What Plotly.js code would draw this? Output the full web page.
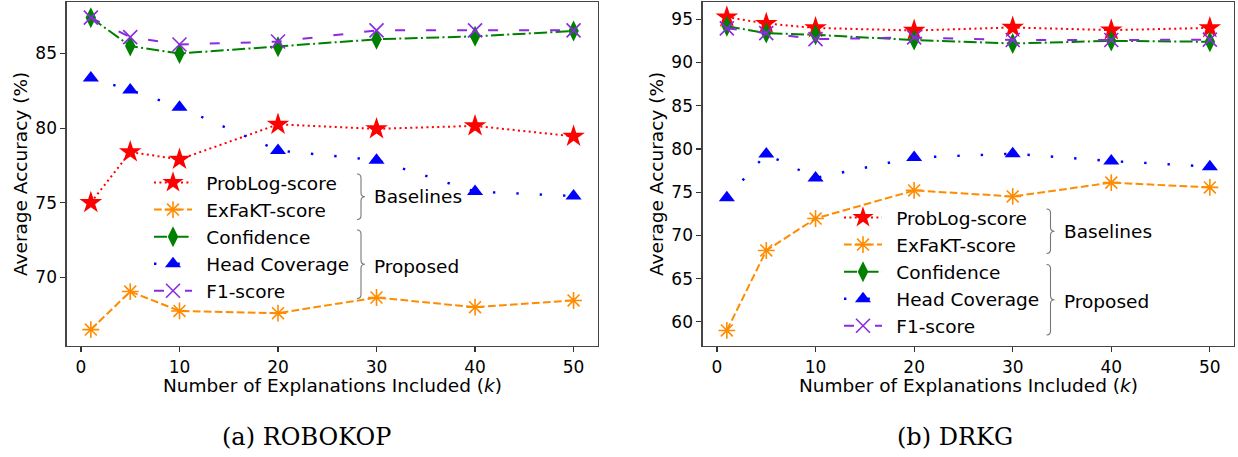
<!DOCTYPE html>
<html>
<head>
<meta charset="utf-8">
<script src="https://cdn.plot.ly/plotly-3.0.1.min.js"></script>
<style>html,body{margin:0;padding:0;background:#fff;}#chart{width:1238px;height:457px;}</style>
</head>
<body>
<div id="chart"></div>
<script>
// ---- data ----
const k = [1, 5, 10, 20, 30, 40, 50];
const seriesNames = ['ProbLog-score', 'ExFaKT-score', 'Confidence', 'Head Coverage', 'F1-score'];
const xTicks = [0, 10, 20, 30, 40, 50];
const robokopTicks = [70, 75, 80, 85];
const drkgTicks = [60, 65, 70, 75, 80, 85, 90, 95];

const robokopProbLog = [75.0, 78.4, 77.9, 80.25, 79.95, 80.15, 79.45];
const robokopExFaKT = [66.5, 69.05, 67.75, 67.6, 68.65, 68.0, 68.45];
const robokopConfidence = [87.4, 85.5, 85.0, 85.45, 85.95, 86.15, 86.5];
const robokopHeadCoverage = [83.35, 82.55, 81.4, 78.5, 77.85, 75.75, 75.45];
const robokopF1 = [87.4, 86.1, 85.6, 85.8, 86.55, 86.55, 86.55];

const drkgProbLog = [95.25, 94.5, 94.0, 93.7, 94.05, 93.75, 94.0];
const drkgExFaKT = [59.0, 68.25, 71.95, 75.2, 74.5, 76.1, 75.55];
const drkgConfidence = [94.2, 93.4, 93.2, 92.6, 92.2, 92.5, 92.4];
const drkgHeadCoverage = [74.35, 79.4, 76.65, 79.0, 79.45, 78.6, 77.95];
const drkgF1 = [93.95, 93.4, 92.7, 92.9, 92.6, 92.6, 92.65];

const groupLabels = ['Baselines', 'Proposed'];
const xTitle = 'Number of Explanations Included (<i>k</i>)';
const yTitle = 'Average Accuracy (%)';
const captions = ['(a) ROBOKOP', '(b) DRKG'];

// ---- styles ----
const W = 1238, H = 457;
const styles = [
  {line: {color: '#ff0000', width: 2, dash: '2px,3.4px'}, marker: {symbol: 'star', size: 17, color: '#ff0000', line: {width: 0}}},
  {line: {color: '#ff8c00', width: 2, dash: '7.7px,3.3px'}, marker: {symbol: 'asterisk-open', size: 14, color: '#ff8c00', line: {width: 1.6, color: '#ff8c00'}}},
  {line: {color: '#008000', width: 2, dash: '13px,3.3px,2px,3.3px'}, marker: {symbol: 'diamond-tall', size: 15, color: '#008000', line: {width: 0}}},
  {line: {color: '#0000ff', width: 2.4, dash: '2.4px,21px'}, marker: {symbol: 'triangle-up', size: 14, color: '#0000ff', line: {width: 0}}},
  {line: {color: '#8a2be2', width: 2, dash: '10px,21px'}, marker: {symbol: 'x-thin-open', size: 14, color: '#8a2be2', line: {width: 1.6, color: '#8a2be2'}}}
];

const legendPad = '\u2002';

function makeTraces(seriesList, xa, ya, legendId) {
  return seriesList.map((ys, i) => ({
    type: 'scatter', mode: 'lines+markers', x: k, y: ys,
    name: legendPad + seriesNames[i], xaxis: xa, yaxis: ya, legend: legendId,
    line: styles[i].line, marker: styles[i].marker, hoverinfo: 'skip'
  }));
}

const traces = [
  ...makeTraces([robokopProbLog, robokopExFaKT, robokopConfidence, robokopHeadCoverage, robokopF1], 'x', 'y', 'legend'),
  ...makeTraces([drkgProbLog, drkgExFaKT, drkgConfidence, drkgHeadCoverage, drkgF1], 'x2', 'y2', 'legend2')
];

const px = v => v / W;
const py = v => 1 - v / H;

const tickFont = {family: 'DejaVu Sans', size: 17, color: '#000'};
const labelFont = {family: 'DejaVu Sans', size: 18.5, color: '#000'};

function xAxis(domain, anchor) {
  return {domain: domain, anchor: anchor, range: [-1.45, 52.45], tickvals: xTicks,
    ticks: 'outside', ticklen: 5, tickwidth: 1.2, tickcolor: '#333',
    showline: true, linecolor: '#444', linewidth: 1.3, mirror: true,
    showgrid: false, zeroline: false, tickfont: tickFont, automargin: false};
}
function yAxis(domain, anchor, range, tv) {
  return {domain: domain, anchor: anchor, range: range, tickvals: tv,
    ticks: 'outside', ticklen: 5, tickwidth: 1.2, tickcolor: '#333',
    showline: true, linecolor: '#444', linewidth: 1.3, mirror: true,
    showgrid: false, zeroline: false, tickfont: tickFont, automargin: false};
}

const yDom = [py(346), py(2)];

function brace(xPix, topPix, botPix) {
  const h = botPix - topPix, m = h / 2;
  const path = `M0,0 Q4,0 4,-4 L4,${-(m - 4)} Q4,${-m} 8,${-m} Q4,${-m} 4,${-(m + 4)} L4,${-(h - 4)} Q4,${-h} 0,${-h}`;
  return {type: 'path', xref: 'paper', yref: 'paper', xsizemode: 'pixel', ysizemode: 'pixel',
    xanchor: px(xPix), yanchor: py(topPix), path: path, line: {color: '#777', width: 1.1}};
}

function ann(text, xPix, yPix, opts) {
  return Object.assign({text: text, xref: 'paper', yref: 'paper', x: px(xPix), y: py(yPix),
    showarrow: false, font: labelFont, xanchor: 'center', yanchor: 'middle'}, opts || {});
}

const captionFont = {family: 'DejaVu Serif', size: 24, color: '#000'};

const layout = {
  width: W, height: H, margin: {l: 0, r: 0, t: 0, b: 0},
  paper_bgcolor: '#fff', plot_bgcolor: '#fff',
  xaxis: xAxis([px(66.7), px(597.7)], 'y'),
  yaxis: yAxis(yDom, 'x', [65.4, 88.45], robokopTicks),
  xaxis2: xAxis([px(702.7), px(1234)], 'y2'),
  yaxis2: yAxis(yDom, 'x2', [57.2, 97.0], drkgTicks),
  legend: {x: px(149), y: py(164), xanchor: 'left', yanchor: 'top', bgcolor: 'rgba(0,0,0,0)',
    borderwidth: 0, font: labelFont, itemwidth: 38, tracegroupgap: 0},
  legend2: {x: px(839), y: py(199), xanchor: 'left', yanchor: 'top', bgcolor: 'rgba(0,0,0,0)',
    borderwidth: 0, font: labelFont, itemwidth: 38, tracegroupgap: 0},
  shapes: [
    brace(357, 174, 219.5), brace(357, 230, 298.5),
    brace(1046.5, 209, 253.5), brace(1046.5, 264.5, 335)
  ],
  annotations: [
    ann(groupLabels[0], 372, 197, {xanchor: 'left'}),
    ann(groupLabels[1], 372, 266, {xanchor: 'left'}),
    ann(groupLabels[0], 1061.5, 231, {xanchor: 'left'}),
    ann(groupLabels[1], 1061.5, 301, {xanchor: 'left'}),
    ann(xTitle, 332, 385),
    ann(xTitle, 968, 385),
    ann(yTitle, 20, 174, {textangle: -90}),
    ann(yTitle, 656, 174, {textangle: -90}),
    ann(captions[0], 306, 437, {font: captionFont}),
    ann(captions[1], 955, 437, {font: captionFont})
  ],
  showlegend: true
};

Plotly.newPlot('chart', traces, layout, {staticPlot: true, displayModeBar: false});
</script>
</body>
</html>
